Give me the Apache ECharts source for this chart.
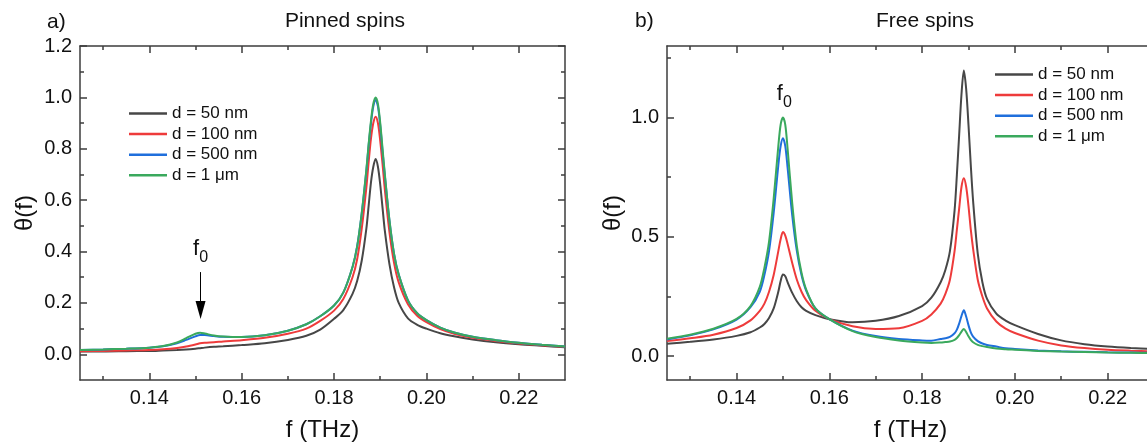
<!DOCTYPE html>
<html>
<head>
<meta charset="utf-8">
<title>Pinned / free spins</title>
<script src="https://cdn.jsdelivr.net/npm/echarts@6/dist/echarts.min.js"></script>
<style>
  html, body { margin: 0; padding: 0; background: #fff; }
  #myChart { width: 1147px; height: 445px; }
</style>
</head>
<body>
<div id="myChart"></div>
<script>
  // legend names and line colours
  const names = ['d = 50 nm', 'd = 100 nm', 'd = 500 nm', 'd = 1 μm'];
  const colors = ['#474747', '#ee3b3b', '#1f6fdc', '#3aa95d'];

  // tick values
  const xTicks = [0.14, 0.16, 0.18, 0.20, 0.22];
  const xMinor = [0.13, 0.15, 0.17, 0.19, 0.21];
  const yTicksA = [0, 0.2, 0.4, 0.6, 0.8, 1.0, 1.2];
  const yMinorA = [0.1, 0.3, 0.5, 0.7, 0.9, 1.1];
  const yTicksB = [0, 0.5, 1.0];
  const yMinorB = [0.25, 0.75, 1.25];

  // a) pinned spins
  const xPinned = [0.125, 0.13, 0.135, 0.14, 0.143, 0.146, 0.148, 0.15, 0.151, 0.152, 0.154, 0.156, 0.16, 0.165, 0.17, 0.174, 0.177, 0.18, 0.182, 0.184, 0.185, 0.186, 0.187, 0.1875, 0.188, 0.1885, 0.189, 0.1895, 0.19, 0.1905, 0.191, 0.192, 0.193, 0.194, 0.196, 0.198, 0.2, 0.203, 0.206, 0.21, 0.215, 0.22, 0.225, 0.23];
  const pinned50 = [0.011, 0.011, 0.012, 0.013, 0.015, 0.017, 0.019, 0.022, 0.024, 0.026, 0.029, 0.031, 0.036, 0.043, 0.056, 0.072, 0.096, 0.138, 0.172, 0.235, 0.285, 0.365, 0.49, 0.58, 0.67, 0.73, 0.76, 0.73, 0.66, 0.57, 0.48, 0.35, 0.26, 0.20, 0.14, 0.115, 0.100, 0.082, 0.070, 0.058, 0.047, 0.039, 0.033, 0.027];
  const pinned100 = [0.012, 0.013, 0.015, 0.017, 0.020, 0.025, 0.030, 0.038, 0.043, 0.045, 0.047, 0.050, 0.055, 0.064, 0.080, 0.100, 0.130, 0.170, 0.215, 0.30, 0.37, 0.49, 0.65, 0.75, 0.84, 0.90, 0.925, 0.90, 0.83, 0.74, 0.64, 0.475, 0.355, 0.28, 0.195, 0.15, 0.125, 0.098, 0.080, 0.064, 0.052, 0.042, 0.035, 0.029];
  const pinned500 = [0.017, 0.019, 0.022, 0.026, 0.031, 0.043, 0.056, 0.070, 0.075, 0.075, 0.071, 0.068, 0.067, 0.074, 0.092, 0.117, 0.148, 0.19, 0.24, 0.34, 0.42, 0.55, 0.715, 0.815, 0.90, 0.965, 0.99, 0.965, 0.89, 0.79, 0.695, 0.52, 0.39, 0.31, 0.21, 0.16, 0.133, 0.104, 0.085, 0.068, 0.055, 0.045, 0.037, 0.030];
  const pinned1um = [0.017, 0.019, 0.022, 0.026, 0.032, 0.046, 0.063, 0.080, 0.084, 0.081, 0.073, 0.069, 0.067, 0.074, 0.092, 0.117, 0.148, 0.19, 0.24, 0.34, 0.42, 0.55, 0.72, 0.82, 0.91, 0.975, 1.0, 0.975, 0.90, 0.80, 0.70, 0.52, 0.39, 0.31, 0.21, 0.16, 0.133, 0.104, 0.085, 0.068, 0.055, 0.045, 0.037, 0.030];

  // b) free spins
  const xFree = [0.125, 0.13, 0.135, 0.14, 0.143, 0.145, 0.146, 0.147, 0.148, 0.149, 0.1495, 0.15, 0.1505, 0.151, 0.152, 0.153, 0.154, 0.155, 0.157, 0.16, 0.165, 0.17, 0.175, 0.18, 0.182, 0.184, 0.185, 0.186, 0.187, 0.1875, 0.188, 0.1885, 0.189, 0.1895, 0.19, 0.1905, 0.191, 0.192, 0.193, 0.194, 0.196, 0.198, 0.2, 0.205, 0.21, 0.215, 0.22, 0.225, 0.23];
  const free50 = [0.052, 0.06, 0.07, 0.085, 0.1, 0.12, 0.135, 0.16, 0.2, 0.27, 0.315, 0.342, 0.335, 0.31, 0.265, 0.23, 0.205, 0.19, 0.172, 0.155, 0.142, 0.148, 0.168, 0.21, 0.245, 0.31, 0.36, 0.44, 0.61, 0.76, 0.93, 1.1, 1.197, 1.12, 0.97, 0.8, 0.65, 0.43, 0.31, 0.24, 0.178, 0.149, 0.13, 0.093, 0.066, 0.05, 0.04, 0.034, 0.03];
  const free100 = [0.063, 0.075, 0.09, 0.118, 0.15, 0.19, 0.22, 0.27, 0.34, 0.44, 0.49, 0.52, 0.505, 0.47, 0.39, 0.32, 0.27, 0.235, 0.19, 0.155, 0.125, 0.114, 0.117, 0.148, 0.175, 0.22, 0.26, 0.32, 0.44, 0.53, 0.62, 0.71, 0.746, 0.71, 0.63, 0.53, 0.45, 0.32, 0.25, 0.20, 0.145, 0.115, 0.097, 0.065, 0.045, 0.034, 0.027, 0.023, 0.02];
  const free500 = [0.07, 0.087, 0.112, 0.153, 0.205, 0.27, 0.34, 0.44, 0.60, 0.80, 0.88, 0.913, 0.88, 0.79, 0.59, 0.44, 0.34, 0.275, 0.20, 0.155, 0.107, 0.084, 0.072, 0.066, 0.065, 0.072, 0.075, 0.081, 0.096, 0.111, 0.137, 0.169, 0.192, 0.166, 0.13, 0.1, 0.082, 0.063, 0.053, 0.047, 0.04, 0.033, 0.03, 0.024, 0.02, 0.018, 0.016, 0.015, 0.014];
  const free1um = [0.073, 0.09, 0.115, 0.156, 0.21, 0.29, 0.37, 0.48, 0.66, 0.88, 0.97, 1.0, 0.97, 0.87, 0.64, 0.46, 0.35, 0.28, 0.20, 0.155, 0.105, 0.08, 0.066, 0.057, 0.055, 0.057, 0.059, 0.061, 0.068, 0.076, 0.088, 0.103, 0.114, 0.101, 0.083, 0.068, 0.058, 0.047, 0.042, 0.038, 0.032, 0.029, 0.027, 0.022, 0.019, 0.017, 0.015, 0.014, 0.013];

  // f0 annotations
  const f0Arrow = [[0.1511, 0.32], [0.1511, 0.172]];
  const f0Label = [0.1503, 1.1];

  const font = 'Liberation Sans, Arial, sans-serif';
  const ink = '#111';
  const frame = '#3d3d3d';

  function zip(xs, ys) {
    return xs.map((x, i) => [x, ys[i]]);
  }

  // one side of the frame: major axis (line, ticks, labels) + minor-tick axis
  function side(grid, pos, min, max, major, minor, opts) {
    const base = { gridIndex: grid, type: 'value', position: pos, min: min, max: max, splitLine: { show: false } };
    const tickStyle = { color: frame, width: 1.5 };
    const main = Object.assign({}, base, {
      axisLine: { show: true, onZero: false, lineStyle: { color: frame, width: 1.5 } },
      axisTick: { show: true, inside: true, length: 7, customValues: major, lineStyle: tickStyle },
      axisLabel: opts.label
        ? { show: true, customValues: major, formatter: v => v.toFixed(opts.digits), fontSize: 20, color: ink, fontFamily: font, margin: 8 }
        : { show: false },
      name: opts.name || '',
      nameLocation: 'middle',
      nameGap: opts.nameGap || 0,
      nameTextStyle: { fontSize: 24, color: ink, fontFamily: font }
    });
    const small = Object.assign({}, base, {
      axisLine: { show: false, onZero: false },
      axisTick: { show: true, inside: true, length: 4, customValues: minor, lineStyle: tickStyle },
      axisLabel: { show: false }
    });
    return [main, small];
  }

  const xAxes = [].concat(
    side(0, 'bottom', 0.125, 0.23, xTicks, xMinor, { label: true, digits: 2, name: 'f (THz)', nameGap: 38 }),
    side(0, 'top', 0.125, 0.23, xTicks, xMinor, {}),
    side(1, 'bottom', 0.125, 0.23, xTicks, xMinor, { label: true, digits: 2, name: 'f (THz)', nameGap: 38 }),
    side(1, 'top', 0.125, 0.23, xTicks, xMinor, {})
  );
  const yAxes = [].concat(
    side(0, 'left', -0.1, 1.2, yTicksA, yMinorA, { label: true, digits: 1, name: 'θ(f)', nameGap: 43 }),
    side(0, 'right', -0.1, 1.2, yTicksA, yMinorA, {}),
    side(1, 'left', -0.1, 1.3, yTicksB, yMinorB, { label: true, digits: 1, name: 'θ(f)', nameGap: 42 }),
    side(1, 'right', -0.1, 1.3, yTicksB, yMinorB, {})
  );

  const f0Rich = {
    f: { fontSize: 22, color: ink, fontFamily: font },
    s: { fontSize: 16, color: ink, fontFamily: font, padding: [18, 0, 0, 0] }
  };

  function curve(i, grid, xs, ys) {
    return {
      name: names[i],
      type: 'line',
      xAxisIndex: grid * 4,
      yAxisIndex: grid * 4,
      data: zip(xs, ys),
      smooth: 0.3,
      symbol: 'none',
      lineStyle: { color: colors[i], width: 2 },
      itemStyle: { color: colors[i] },
      z: 2 + i
    };
  }

  const series = [
    curve(0, 0, xPinned, pinned50),
    curve(1, 0, xPinned, pinned100),
    curve(2, 0, xPinned, pinned500),
    curve(3, 0, xPinned, pinned1um),
    curve(0, 1, xFree, free50),
    curve(1, 1, xFree, free100),
    curve(2, 1, xFree, free500),
    curve(3, 1, xFree, free1um)
  ];

  series[0].markLine = {
    silent: true,
    animation: false,
    lineStyle: { color: '#000', width: 1, type: 'solid' },
    label: { show: true, position: 'start', distance: 6, formatter: '{f|f}{s|0}', rich: f0Rich },
    data: [[
      { coord: f0Arrow[0], symbol: 'none' },
      { coord: f0Arrow[1], symbol: 'triangle', symbolSize: [10, 18] }
    ]]
  };
  series[7].markPoint = {
    silent: true,
    animation: false,
    symbol: 'rect',
    symbolSize: 1,
    itemStyle: { color: 'rgba(0,0,0,0)' },
    label: { show: true, position: 'inside', formatter: '{f|f}{s|0}', rich: f0Rich },
    data: [{ coord: f0Label }]
  };

  const legendBase = {
    data: names,
    orient: 'vertical',
    icon: 'rect',
    itemWidth: 38,
    itemHeight: 2.5,
    itemGap: 3.6,
    padding: 0,
    selectedMode: false,
    textStyle: { fontSize: 17, lineHeight: 17, color: ink, fontFamily: font }
  };

  const titleText = (text, left, top, align) => ({
    text: text, left: left, top: top, padding: 0, textAlign: align,
    textStyle: { fontSize: 21, fontWeight: 'normal', color: ink, fontFamily: font }
  });

  const myChart = echarts.init(document.getElementById('myChart'), null, { renderer: 'canvas' });
  myChart.setOption({
    animation: false,
    backgroundColor: '#fff',
    title: [
      titleText('a)', 47, 12, 'left'),
      titleText('Pinned spins', 345, 11, 'center'),
      titleText('b)', 635, 11, 'left'),
      titleText('Free spins', 925, 11, 'center')
    ],
    legend: [
      Object.assign({}, legendBase, { left: 129, top: 105 }),
      Object.assign({}, legendBase, { left: 995, top: 66 })
    ],
    grid: [
      { left: 80, top: 46, width: 485, height: 334, containLabel: false, outerBoundsMode: 'none' },
      { left: 667, top: 46, width: 487, height: 334, containLabel: false, outerBoundsMode: 'none' }
    ],
    xAxis: xAxes,
    yAxis: yAxes,
    series: series
  });
</script>
</body>
</html>
